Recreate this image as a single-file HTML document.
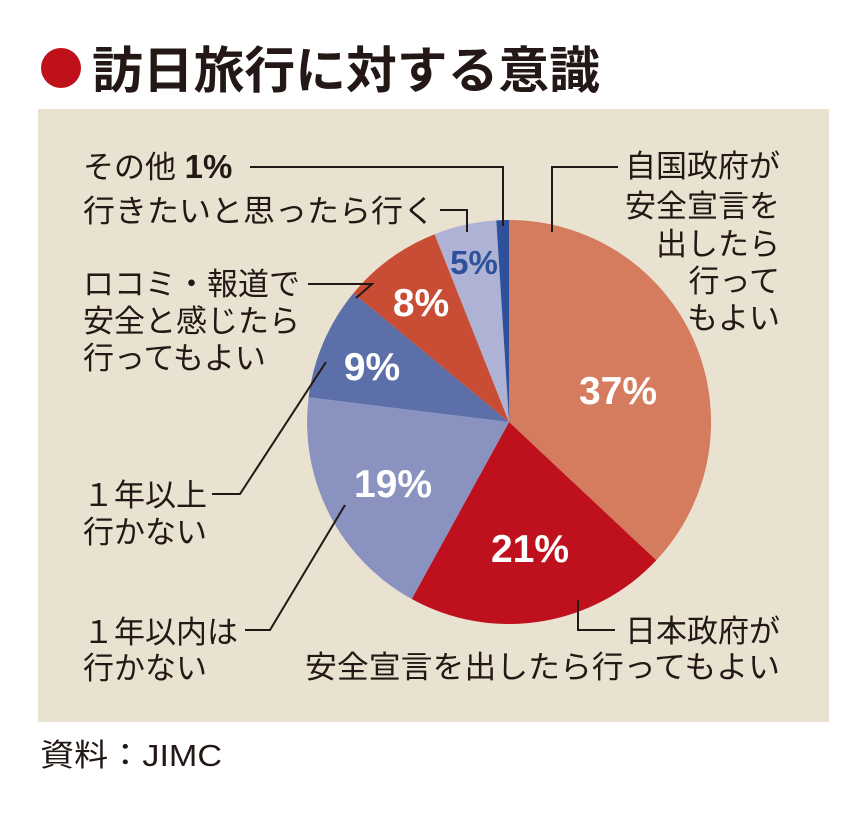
<!DOCTYPE html>
<html><head><meta charset="utf-8"><style>
body{margin:0;background:#fff;}
svg{display:block;}
text{font-family:"Liberation Sans","Noto Sans CJK JP",sans-serif;fill:#231815;}
</style></head><body>
<svg width="868" height="813" viewBox="0 0 868 813" xmlns="http://www.w3.org/2000/svg">
<rect x="0" y="0" width="868" height="813" fill="#fff"/>
<circle cx="61" cy="68" r="20" fill="#C0101A"/>
<text x="92" y="88" font-size="50" font-weight="bold" textLength="508" lengthAdjust="spacingAndGlyphs">訪日旅行に対する意識</text>
<rect x="38" y="109" width="791" height="613" fill="#E9E2D0"/>
<g stroke="none">
<path d="M509,422 L509,220 A202,202 0 0 1 656.3,560.3 Z" fill="#D57B5E"/>
<path d="M509,422 L656.3,560.3 A202,202 0 0 1 411.7,599 Z" fill="#BF111D"/>
<path d="M509,422 L411.7,599 A202,202 0 0 1 308.6,397.3 Z" fill="#8A92C0"/>
<path d="M509,422 L308.6,397.3 A202,202 0 0 1 353.4,293.2 Z" fill="#5D6FA8"/>
<path d="M509,422 L353.4,293.2 A202,202 0 0 1 434.6,234.2 Z" fill="#C94C35"/>
<path d="M509,422 L434.6,234.2 A202,202 0 0 1 496.3,220.4 Z" fill="#AEB3D6"/>
<path d="M509,422 L496.3,220.4 A202,202 0 0 1 509,220 Z" fill="#2F509A"/>
</g>
<g stroke="#231815" stroke-width="2" fill="none">
<polyline points="250,167 503,167 503,226"/>
<polyline points="440,210 467,210 467,232"/>
<polyline points="308,284 372,284 356,298"/>
<polyline points="212,494 240,494 326,362"/>
<polyline points="245,630 270,630 345,505"/>
<polyline points="618,167 552,167 552,232"/>
<polyline points="615,630 578,630 578,600"/>
</g>
<g font-size="31">
<text x="83" y="178">その他 <tspan font-weight="bold" font-size="33">1%</tspan></text>
<text x="83" y="222" textLength="352" lengthAdjust="spacingAndGlyphs">行きたいと思ったら行く</text>
<text x="83" y="295">ロコミ・報道で</text>
<text x="83" y="332">安全と感じたら</text>
<text x="83" y="369">行ってもよい</text>
<text x="83" y="506">１年以上</text>
<text x="83" y="543">行かない</text>
<text x="83" y="643">１年以内は</text>
<text x="83" y="679">行かない</text>
<g text-anchor="end">
<text x="780" y="177">自国政府が</text>
<text x="780" y="217">安全宣言を</text>
<text x="780" y="255">出したら</text>
<text x="780" y="292">行って</text>
<text x="780" y="329">もよい</text>
<text x="780" y="642">日本政府が</text>
<text x="780" y="678" textLength="475" lengthAdjust="spacingAndGlyphs">安全宣言を出したら行ってもよい</text>
</g>
</g>
<g font-weight="bold" text-anchor="middle" font-size="39">
<text x="618" y="404" style="fill:#fff">37%</text>
<text x="530" y="562" style="fill:#fff">21%</text>
<text x="393" y="497" style="fill:#fff">19%</text>
<text x="372" y="380" style="fill:#fff">9%</text>
<text x="421" y="316" style="fill:#fff">8%</text>
<text x="474" y="274" font-size="33" style="fill:#2F509A">5%</text>
</g>
<text x="40" y="766" font-size="31" textLength="182" lengthAdjust="spacingAndGlyphs">資料：JIMC</text>
</svg>
</body></html>
